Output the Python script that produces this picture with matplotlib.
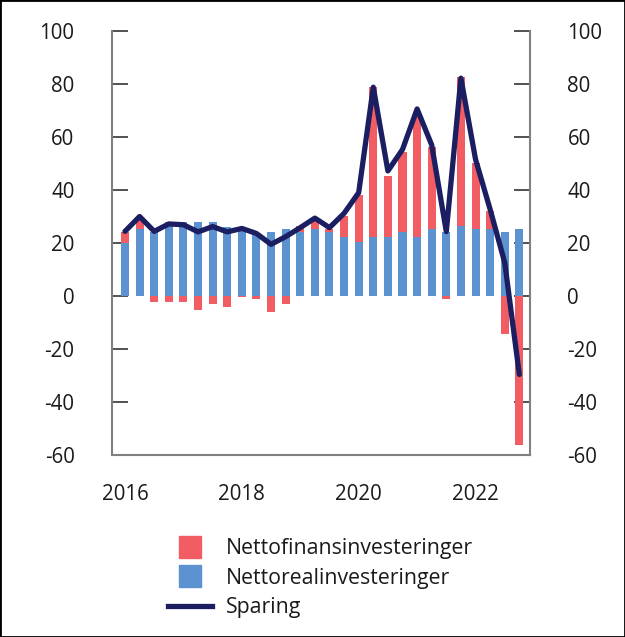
import numpy as np
import matplotlib.pyplot as plt
from matplotlib.lines import Line2D
from matplotlib.patches import Rectangle

plt.rcParams['font.family'] = ['Open Sans', 'DejaVu Sans']

# quarterly, 2016K1 - 2022K4
quarters = [f"{y}K{q}" for y in range(2016, 2023) for q in range(1, 5)]
realinv = [20.1, 25.2, 24.2, 28.0, 28.0, 28.0, 28.0, 26.0, 24.9, 23.8,
           24.1, 25.2, 24.1, 25.4, 24.1, 22.3, 20.4, 22.3, 22.3, 24.0,
           22.3, 25.3, 24.0, 26.3, 25.3, 25.3, 24.0, 25.3]
fininv = [4.1, 3.7, -2.3, -2.3, -2.3, -5.3, -3.1, -4.2, -0.4, -1.1,
          -6.0, -3.1, 2.3, 3.3, 1.1, 7.9, 17.7, 56.7, 23.0, 30.2,
          46.9, 30.8, -1.1, 56.3, 24.9, 6.7, -14.3, -56.2]
sparing = [24.4, 30.0, 24.4, 27.2, 26.9, 24.2, 26.2, 24.2, 25.5, 23.6,
           19.5, 22.4, 25.8, 29.4, 25.8, 31.2, 39.0, 78.8, 47.2, 55.3,
           70.6, 57.0, 24.3, 82.2, 51.6, 32.7, 12.6, -29.6]
year_ticks = ['2016', '2018', '2020', '2022']

red = '#f15d62'
blue = '#5b92cf'
navy = '#1b1f61'
txt = '#1a1a1a'

x = np.arange(len(quarters))
real = np.array(realinv)
fin = np.array(fininv)
fin_bottom = np.where(fin >= 0, real, 0)

fig = plt.figure(figsize=(6.25, 6.37), dpi=100)
ax = fig.add_axes([0.1792, 0.2857, 0.6688, 0.6656])

ax.bar(x, real, width=0.55, color=blue, zorder=2)
ax.bar(x, fin, bottom=fin_bottom, width=0.55, color=red, zorder=2)
ax.plot(x, sparing, color=navy, lw=3.8, zorder=3, solid_capstyle='round')

ax.set_xlim(-0.89, 27.73)
ax.set_ylim(-60, 100)
ax.set_yticks(range(-60, 101, 20))
ax.set_yticklabels([str(v) for v in range(-60, 101, 20)])
ax.set_xticks([0, 8, 16, 24])
ax.set_xticklabels(year_ticks)

ax.tick_params(axis='y', direction='in', length=11.5, width=1.2,
               color='#333333', labelsize=14.8, labelcolor=txt, pad=27,
               left=True, right=True, labelleft=True, labelright=True)
ax.tick_params(axis='x', length=0, labelsize=14.8, labelcolor=txt, pad=21)

ax.spines['top'].set_visible(False)
for s in ['left', 'right', 'bottom']:
    ax.spines[s].set_color('#808080')
    ax.spines[s].set_linewidth(1.5)

handles = [
    Line2D([], [], marker='s', markersize=16.5, linestyle='none', color=red),
    Line2D([], [], marker='s', markersize=16.5, linestyle='none', color=blue),
    Line2D([], [], color=navy, lw=3.8),
]
labels = ['Nettofinansinvesteringer', 'Nettorealinvesteringer', 'Sparing']
leg = fig.legend(handles, labels, loc='upper left', bbox_to_anchor=(0.269, 0.155),
                 frameon=False, fontsize=15.3, handlelength=2.05,
                 handletextpad=0.65, labelspacing=0.4, borderpad=0,
                 borderaxespad=0)
for t in leg.get_texts():
    t.set_color(txt)

fig.add_artist(Rectangle((0, 0), 1, 1, fill=False, lw=2, edgecolor='black',
                         transform=fig.transFigure))

fig.savefig('out.png', dpi=100)
